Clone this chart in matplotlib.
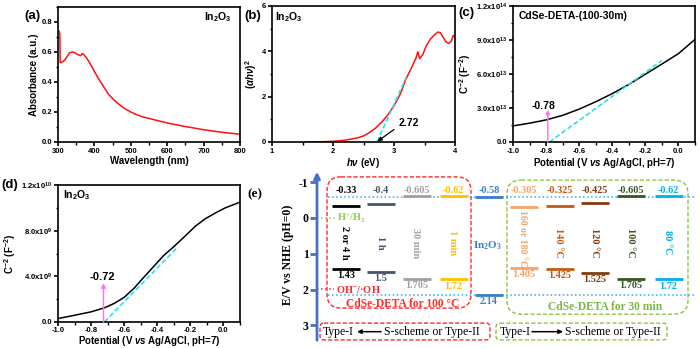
import numpy as np
import matplotlib
matplotlib.use('Agg')
import matplotlib.pyplot as plt
from matplotlib.patches import FancyBboxPatch
from matplotlib.ticker import MultipleLocator, FuncFormatter

plt.rcParams['font.family'] = ['Liberation Sans', 'DejaVu Sans']
plt.rcParams['font.weight'] = 'bold'
plt.rcParams['axes.labelweight'] = 'bold'
plt.rcParams['axes.unicode_minus'] = False
plt.rcParams['mathtext.default'] = 'regular'
plt.rcParams['mathtext.fontset'] = 'custom'
plt.rcParams['mathtext.it'] = 'Liberation Sans:italic:bold'
plt.rcParams['mathtext.rm'] = 'Liberation Sans:bold'

# ---- data ----
# (a) UV-vis absorbance of In2O3
abs_wl = [300, 303, 305, 306, 310, 318, 325, 332, 340, 347, 352, 358, 362, 367, 372, 380,
          390, 400, 412, 425, 438, 452, 465, 482, 500, 515, 530, 545, 570, 600, 650, 700, 750, 800]
abs_val = [0.735, 0.74, 0.72, 0.53, 0.53, 0.545, 0.57, 0.595, 0.6, 0.595, 0.585, 0.58, 0.575,
           0.59, 0.58, 0.555, 0.515, 0.47, 0.42, 0.37, 0.32, 0.285, 0.256, 0.225, 0.2, 0.183,
           0.17, 0.16, 0.145, 0.127, 0.103, 0.082, 0.065, 0.052]

# (b) Tauc plot
tauc_e = [1.55, 1.8, 2.0, 2.2, 2.4, 2.5, 2.6, 2.7, 2.8, 2.9, 3.0, 3.1, 3.2, 3.3, 3.36, 3.39,
          3.42, 3.47, 3.53, 3.6, 3.66, 3.72, 3.76, 3.8, 3.85, 3.9, 3.94, 3.97, 4.0]
tauc_v = [0.0, 0.01, 0.03, 0.08, 0.18, 0.27, 0.42, 0.62, 0.88, 1.2, 1.6, 2.1, 2.8, 3.35, 3.7,
          3.98, 3.68, 3.85, 4.25, 4.55, 4.72, 4.85, 4.82, 4.65, 4.42, 4.35, 4.45, 4.7, 4.6]
tauc_fit_e = [2.72, 3.2]
tauc_fit_v = [0.0, 2.85]
band_gap = 2.72

# (c) Mott-Schottky CdSe-DETA-(100-30m)
ms_c_v = [-1.0, -0.9, -0.8, -0.7, -0.6, -0.5, -0.4, -0.3, -0.2, -0.1, 0.0, 0.1]
ms_c_y = [1.42e13, 1.66e13, 1.95e13, 2.35e13, 2.9e13, 3.55e13, 4.27e13, 5.08e13, 5.98e13,
          6.88e13, 7.8e13, 9.05e13]
ms_c_fit_v = [-0.78, -0.1]
ms_c_fit_y = [0.0, 7.2e13]
efb_c = -0.78

# (d) Mott-Schottky In2O3
ms_d_v = [-1.0, -0.9, -0.8, -0.72, -0.66, -0.6, -0.54, -0.48, -0.42, -0.36, -0.3, -0.23,
          -0.17, -0.11, -0.05, 0.01, 0.1]
ms_d_y = [3.0e8, 5.9e8, 8.9e8, 1.24e9, 1.63e9, 2.16e9, 2.96e9, 3.94e9, 4.89e9, 5.84e9,
          6.6e9, 7.55e9, 8.39e9, 9.04e9, 9.54e9, 9.99e9, 1.05e10]
ms_d_fit_v = [-0.72, -0.28]
ms_d_fit_y = [0.0, 6.5e9]
efb_d = -0.72

# (e) band positions (V vs NHE)
time_labels = ['2 or 4 h', '1 h', '30 min', '1 min']
cb_100 = [-0.33, -0.4, -0.605, -0.62]
vb_100 = [1.43, 1.5, 1.705, 1.72]
time_colors = ['#000000', '#44546a', '#a0a0a0', '#ffc000']

in2o3_cb = -0.58
in2o3_vb = 2.14

temp_labels = ['160 or 180 °C', '140 °C', '120 °C', '100 °C', '80 °C']
cb_30 = [-0.305, -0.325, -0.425, -0.605, -0.62]
vb_30 = [1.405, 1.425, 1.525, 1.705, 1.72]
temp_colors = ['#f4a469', '#c55a11', '#843c0c', '#375623', '#00b0f0']

# ---- layout (figure pixels) ----
W, H = 700, 348
fig = plt.figure(figsize=(7, 3.48), dpi=100)


def px_axes(l, t, r, b):
    return fig.add_axes([l / W, 1 - b / H, (r - l) / W, (b - t) / H])


def style(ax):
    ax.tick_params(which='major', direction='out', length=3, width=1.2, labelsize=5.5, pad=1.2)
    ax.tick_params(which='minor', direction='out', length=1.8, width=1)
    for s in ax.spines.values():
        s.set_linewidth(1.2)


def sci_fmt(v, pos):
    if abs(v) < 1e-3:
        return '0.0'
    e = int(np.floor(np.log10(abs(v)) + 1e-9))
    return f'{v / 10**e:.1f}x10$^{{{e}}}$'


# (a)
ax_a = px_axes(58, 7, 240, 142)
ax_a.plot(abs_wl, abs_val, color='#ff1010', lw=1.1)
ax_a.set_xlim(300, 800)
ax_a.set_ylim(0, 0.9)
ax_a.xaxis.set_major_locator(MultipleLocator(100))
ax_a.xaxis.set_minor_locator(MultipleLocator(50))
ax_a.yaxis.set_major_locator(MultipleLocator(0.2))
ax_a.yaxis.set_minor_locator(MultipleLocator(0.1))
ax_a.yaxis.set_major_formatter(FuncFormatter(lambda v, p: f'{v:.1f}'))
ax_a.set_xlabel('Wavelength (nm)', fontsize=7, labelpad=1)
ax_a.set_ylabel('Absorbance (a.u.)', fontsize=7, labelpad=2)
ax_a.text(0.88, 0.925, 'In$_2$O$_3$', transform=ax_a.transAxes, ha='center', va='center', fontsize=7.5)
style(ax_a)
fig.text(32 / W, 1 - 16 / H, '(a)', ha='center', va='center', fontsize=9.5)

# (b)
ax_b = px_axes(272, 6, 455, 142)
ax_b.plot(tauc_e, tauc_v, color='#ff1010', lw=1.1)
ax_b.plot(tauc_fit_e, tauc_fit_v, color='#30e0e8', lw=1.2, ls=(0, (3, 1.5)))
ax_b.annotate('', xy=(2.73, 0.03), xytext=(3.0, 0.55),
              arrowprops=dict(arrowstyle='-|>', color='k', lw=0.9, mutation_scale=6,
                              shrinkA=0, shrinkB=0))
ax_b.text(3.07, 0.84, f'{band_gap:.2f}', ha='left', va='center', fontsize=7.5)
ax_b.set_xlim(1, 4)
ax_b.set_ylim(0, 6)
ax_b.xaxis.set_major_locator(MultipleLocator(1))
ax_b.xaxis.set_minor_locator(MultipleLocator(0.5))
ax_b.yaxis.set_major_locator(MultipleLocator(2))
ax_b.yaxis.set_minor_locator(MultipleLocator(1))
ax_b.set_xlabel(r'$\mathit{h\nu}$ (eV)', fontsize=7, labelpad=1)
ax_b.set_ylabel(r'$(\mathit{\alpha h\nu})^2$', fontsize=7, labelpad=2)
ax_b.text(0.093, 0.92, 'In$_2$O$_3$', transform=ax_b.transAxes, ha='center', va='center', fontsize=7.5)
style(ax_b)
fig.text(253 / W, 1 - 16 / H, '(b)', ha='center', va='center', fontsize=9.5)

# (c)
ax_c = px_axes(513, 6, 695, 142)
ax_c.plot(ms_c_v, ms_c_y, color='k', lw=1.1)
ax_c.plot(ms_c_fit_v, ms_c_fit_y, color='#30e0e8', lw=1.2, ls=(0, (3, 1.5)))
ax_c.annotate('', xy=(efb_c - 0.01, 2.85e13), xytext=(efb_c - 0.01, 0),
              arrowprops=dict(arrowstyle='-|>', color='#ff70ff', lw=1.1, mutation_scale=6,
                              shrinkA=0, shrinkB=0))
ax_c.text(-0.815, 3.2e13, f'{efb_c:.2f}', ha='center', va='center', fontsize=7.5)
ax_c.set_xlim(-1.0, 0.1)
ax_c.set_ylim(0, 1.2e14)
ax_c.xaxis.set_major_locator(MultipleLocator(0.2))
ax_c.xaxis.set_minor_locator(MultipleLocator(0.1))
ax_c.xaxis.set_major_formatter(FuncFormatter(lambda v, p: f'{v:.1f}'))
ax_c.yaxis.set_major_locator(MultipleLocator(3e13))
ax_c.yaxis.set_minor_locator(MultipleLocator(1.5e13))
ax_c.yaxis.set_major_formatter(FuncFormatter(sci_fmt))
ax_c.set_xlabel(r'Potential (V $\mathit{vs}$ Ag/AgCl, pH=7)', fontsize=7, labelpad=1)
ax_c.set_ylabel(r'C$^{-2}$ (F$^{-2}$)', fontsize=7, labelpad=2)
ax_c.text(0.03, 0.925, 'CdSe-DETA-(100-30m)', transform=ax_c.transAxes, ha='left', va='center', fontsize=7.5)
style(ax_c)
fig.text(466 / W, 1 - 13 / H, '(c)', ha='center', va='center', fontsize=9.5)

# (d)
ax_d = px_axes(58, 185, 240, 322)
ax_d.plot(ms_d_v, ms_d_y, color='k', lw=1.1)
ax_d.plot(ms_d_fit_v, ms_d_fit_y, color='#30e0e8', lw=1.2, ls=(0, (3, 1.5)))
ax_d.annotate('', xy=(efb_d - 0.005, 3.4e9), xytext=(efb_d - 0.005, 0),
              arrowprops=dict(arrowstyle='-|>', color='#ff70ff', lw=1.1, mutation_scale=6,
                              shrinkA=0, shrinkB=0))
ax_d.text(-0.73, 3.95e9, f'{efb_d:.2f}', ha='center', va='center', fontsize=8)
ax_d.set_xlim(-1.0, 0.1)
ax_d.set_ylim(0, 1.2e10)
ax_d.xaxis.set_major_locator(MultipleLocator(0.2))
ax_d.xaxis.set_minor_locator(MultipleLocator(0.1))
ax_d.xaxis.set_major_formatter(FuncFormatter(lambda v, p: f'{v:.1f}'))
ax_d.yaxis.set_major_locator(MultipleLocator(4e9))
ax_d.yaxis.set_minor_locator(MultipleLocator(2e9))
ax_d.yaxis.set_major_formatter(FuncFormatter(sci_fmt))
ax_d.set_xlabel(r'Potential (V $\mathit{vs}$ Ag/AgCl, pH=7)', fontsize=7, labelpad=0)
ax_d.set_ylabel(r'C$^{-2}$ (F$^{-2}$)', fontsize=7, labelpad=2)
ax_d.text(0.03, 0.925, 'In$_2$O$_3$', transform=ax_d.transAxes, ha='left', va='center', fontsize=7.5)
style(ax_d)
ax_d.tick_params(axis='x', which='major', pad=0.8)
fig.text(10 / W, 1 - 185 / H, '(d)', ha='center', va='center', fontsize=9.5)

# (e) band diagram: x in figure pixels, y in V vs NHE
serif = ['Liberation Serif', 'DejaVu Serif']
px_per_v = 35.75
e_top = (170 - 218) / px_per_v
e_bot = (345 - 218) / px_per_v
ax_e = px_axes(317, 170, 700, 345)
ax_e.set_xlim(317, 700)
ax_e.set_ylim(e_bot, e_top)
for s in ax_e.spines.values():
    s.set_visible(False)
ax_e.set_xticks([])
ax_e.set_yticks([-1, 0, 1, 2, 3])
ax_e.tick_params(axis='y', color='#4472c4', labelcolor='k', length=5, width=2, pad=1,
                 labelsize=8.5)
for lab in ax_e.get_yticklabels():
    lab.set_family(serif)
    lab.set_fontweight('bold')
ax_e.annotate('', xy=(317, e_top + 0.05), xytext=(317, 3.42), annotation_clip=False,
              arrowprops=dict(arrowstyle='-|>', color='#4472c4', lw=2, mutation_scale=9,
                              shrinkA=0, shrinkB=0))
fig.text(288 / W, 1 - 255 / H, 'E/V vs NHE (pH=0)', rotation=90, ha='center', va='center',
         fontsize=8.5, family=serif, fontweight='bold')
fig.text(255 / W, 1 - 194 / H, '(e)', ha='center', va='center', fontsize=9.5,
         family=serif, fontweight='bold')

aspect = 1 / px_per_v
ax_e.add_patch(FancyBboxPatch((327, -1.15), 144, 3.67, boxstyle='round,pad=0,rounding_size=14',
                              mutation_aspect=aspect, fill=False, ec='#ff2a2a', ls=(0, (3, 1.5)), lw=1))
ax_e.add_patch(FancyBboxPatch((507, -1.06), 181, 3.75, boxstyle='round,pad=0,rounding_size=14',
                              mutation_aspect=aspect, fill=False, ec='#8cc63f', ls=(0, (3, 1.5)), lw=1))
ax_e.add_patch(FancyBboxPatch((320, 2.94), 170, 0.47, boxstyle='round,pad=0,rounding_size=4',
                              mutation_aspect=aspect, fill=False, ec='#ff2a2a', ls=(0, (3, 1.5)), lw=1))
ax_e.add_patch(FancyBboxPatch((496, 2.94), 171, 0.47, boxstyle='round,pad=0,rounding_size=4',
                              mutation_aspect=aspect, fill=False, ec='#8cc63f', ls=(0, (3, 1.5)), lw=1))

# reference levels
ax_e.plot([328, 695], [in2o3_cb, in2o3_cb], ls=':', color='#2ab0f0', lw=1.1)
ax_e.plot([328, 695], [in2o3_vb, in2o3_vb], ls=':', color='#2ab0f0', lw=1.1)
ax_e.plot([317, 335], [0, 0], ls=':', color='#92d050', lw=1.1)
ax_e.plot([317, 334], [1.99, 1.99], ls=':', color='#ff2a2a', lw=1.1)
ax_e.text(337, 0, 'H$^{+}$/H$_{2}$', color='#92d050', ha='left', va='center', fontsize=7.5,
          family=serif, fontweight='bold')
ax_e.text(336, 1.99, 'OH$^{-}$/·OH', color='#ff2a2a', ha='left', va='center', fontsize=7.5,
          family=serif, fontweight='bold')

col_x_100 = [346, 381, 416.5, 453.5]
col_x_in = 489
col_x_30 = [523.5, 559.5, 595, 631, 668.5]
half_w = 14
lab_y_cb = -0.76


def band_column(x, cb, vb, label, color, rot=270, lab_size=7.5, lab_shift=0.14):
    ax_e.plot([x - half_w, x + half_w], [cb, cb], color=color, lw=2, solid_capstyle='butt')
    ax_e.plot([x - half_w, x + half_w], [vb, vb], color=color, lw=2, solid_capstyle='butt')
    ax_e.text(x, lab_y_cb, f'{cb:g}', color=color, ha='center', va='center', fontsize=7.3,
              family=serif, fontweight='bold')
    ax_e.text(x, vb + 0.06, f'{vb:g}', color=color, ha='center', va='top', fontsize=7.3,
              family=serif, fontweight='bold')
    ax_e.text(x - 1, (cb + vb) / 2 + lab_shift, label, color=color, ha='center', va='center',
              fontsize=lab_size, rotation=rot, family=serif, fontweight='bold')


for x, cb, vb, lab, c in zip(col_x_100, cb_100, vb_100, time_labels, time_colors):
    band_column(x, cb, vb, lab, c)
band_column(col_x_in, in2o3_cb, in2o3_vb, 'In$_2$O$_3$', '#3d7cc9', rot=0, lab_size=8, lab_shift=0.0)
for x, cb, vb, lab, c in zip(col_x_30, cb_30, vb_30, temp_labels, temp_colors):
    long_lab = len(lab) > 8
    band_column(x, cb, vb, lab, c, lab_size=7 if long_lab else 7.5,
                lab_shift=0.02 if long_lab else 0.14)

ax_e.text(403, 2.41, 'CdSe-DETA for 100 °C', color='#ff2a2a', ha='center', va='center',
          fontsize=8.3, family=serif, fontweight='bold')
ax_e.text(605, 2.49, 'CdSe-DETA for 30 min', color='#7ab648', ha='center', va='center',
          fontsize=8.3, family=serif, fontweight='bold')

ty = 3.18
ax_e.text(323, ty, 'Type-I', ha='left', va='center', fontsize=8.5, family=serif, fontweight='normal')
ax_e.annotate('', xy=(357, ty), xytext=(381, ty),
              arrowprops=dict(arrowstyle='-|>', color='k', lw=1.1, mutation_scale=6, shrinkA=0, shrinkB=0))
ax_e.text(384, ty, 'S-scheme or Type-II', ha='left', va='center', fontsize=8.5, family=serif,
          fontweight='normal')
ax_e.text(500, ty, 'Type-I', ha='left', va='center', fontsize=8.5, family=serif, fontweight='normal')
ax_e.annotate('', xy=(563, ty), xytext=(532, ty),
              arrowprops=dict(arrowstyle='-|>', color='k', lw=1.1, mutation_scale=6, shrinkA=0, shrinkB=0))
ax_e.text(565, ty, 'S-scheme or Type-II', ha='left', va='center', fontsize=8.5, family=serif,
          fontweight='normal')

fig.savefig('out.png', dpi=100)
